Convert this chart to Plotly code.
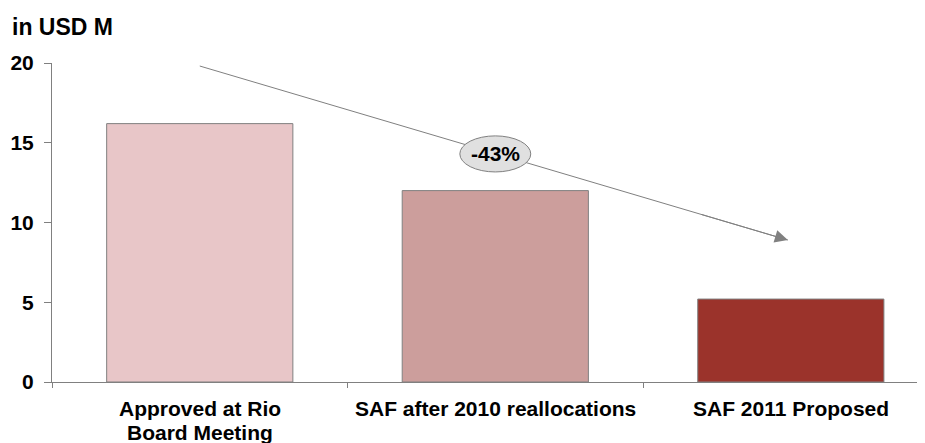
import plotly.graph_objects as go

categories = ["Approved at Rio<br>Board Meeting", "SAF after 2010 reallocations", "SAF 2011 Proposed"]
values = [16.2, 12.0, 5.2]
bar_colors = ["#e8c6c8", "#cc9e9c", "#9b332b"]
y_ticks = [0, 5, 10, 15, 20]
change_label = "-43%"
unit_label = "in USD M"

FONT = "Liberation Sans, Arial, sans-serif"

fig = go.Figure()
fig.add_trace(go.Bar(
    x=categories, y=values, width=0.63,
    marker=dict(color=bar_colors, line=dict(color="#808080", width=1)),
    hoverinfo="skip",
))

# category labels drawn line by line (tighter line spacing than plotly's default)
for i, label in enumerate(categories):
    for j, line in enumerate(label.split("<br>")):
        fig.add_annotation(x=i, xref="x", y=0, yref="paper", yanchor="middle",
                           yshift=-26 - 24 * j, text=line, showarrow=False,
                           font=dict(family=FONT, size=21, color="black", weight="bold"))

# trend arrow from above bar 1 to near bar 3
x_start, y_start = 0.0, 19.81
x_end, y_end = 1.99, 8.9
t = 0.85
fig.add_shape(type="line", xref="x", yref="y", x0=x_start, y0=y_start, x1=x_end, y1=y_end,
              line=dict(color="#808080", width=1), layer="above")
fig.add_annotation(x=x_end, y=y_end, ax=x_start + (x_end - x_start) * t, ay=y_start + (y_end - y_start) * t,
                   axref="x", ayref="y", xref="x", yref="y", text="", showarrow=True,
                   arrowhead=2, arrowsize=2.6, arrowwidth=1, arrowcolor="#808080")

# ellipse label
cx, cy = 1.0, 14.3
fig.add_shape(type="circle", xref="x", yref="y", x0=cx - 0.12, x1=cx + 0.12, y0=cy - 1.13, y1=cy + 1.13,
              fillcolor="#e0e0e0", line=dict(color="#808080", width=1), layer="above")
fig.add_annotation(x=cx, y=cy, xref="x", yref="y", text=change_label, showarrow=False,
                   font=dict(family=FONT, size=21, color="black", weight="bold"))

fig.add_annotation(xref="paper", yref="paper", x=0, y=1, xshift=-42, yshift=36,
                   xanchor="left", yanchor="middle", text=unit_label, showarrow=False,
                   font=dict(family=FONT, size=23, color="black", weight="bold"))

# page body has an 8px margin, so the figure is sized/offset to compensate
fig.update_layout(
    width=917, height=435,
    margin=dict(l=44, r=0, t=55, b=61, autoexpand=False),
    plot_bgcolor="white", paper_bgcolor="white",
    showlegend=False,
    font=dict(family=FONT, size=21, color="black"),
    xaxis=dict(
        type="category", range=[-0.5, 2.454], automargin=False,
        showline=True, linecolor="#808080", linewidth=1,
        ticks="outside", tickson="boundaries", ticklen=5, tickcolor="#808080",
        showgrid=False, zeroline=False, showticklabels=False,
    ),
    yaxis=dict(
        range=[0, 20], tickvals=y_ticks, automargin=False,
        showline=True, linecolor="#808080", linewidth=1,
        ticks="outside", ticklen=7, tickcolor="#808080",
        showgrid=False, zeroline=False,
        ticklabelstandoff=6,
        tickfont=dict(family=FONT, size=21, color="black", weight="bold"),
    ),
)

fig.write_html("out.html")
